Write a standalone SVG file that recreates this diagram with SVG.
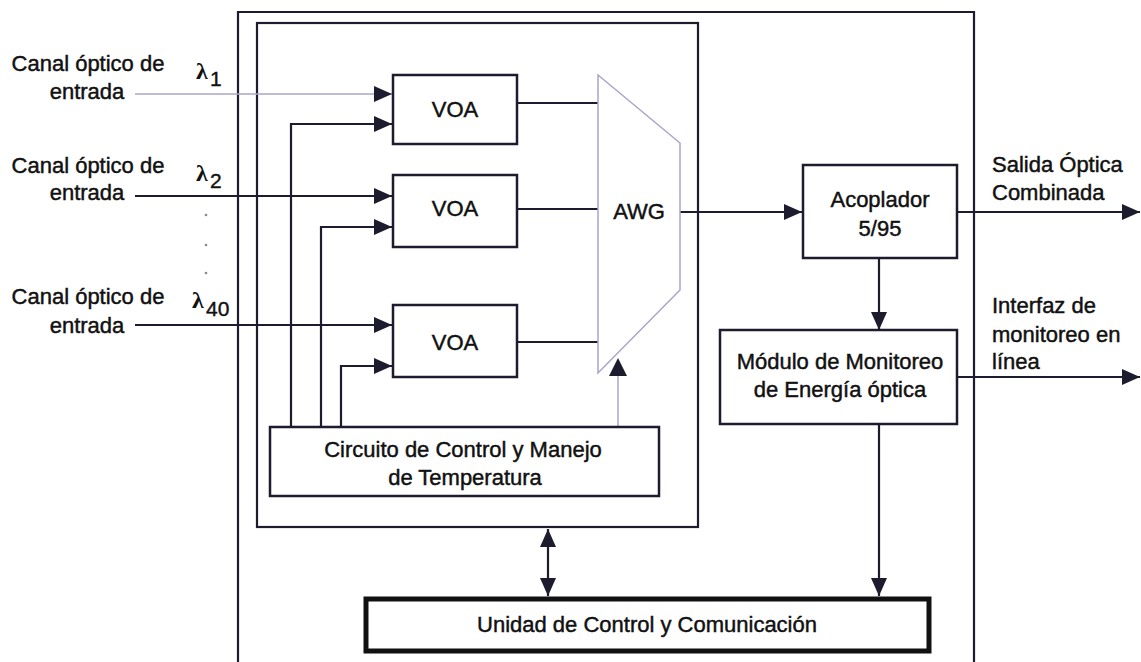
<svg xmlns="http://www.w3.org/2000/svg" width="1141" height="662" viewBox="0 0 1141 662">
<style>
.ln{stroke:#1d1b2e;stroke-width:2.2;fill:none}
.lv{stroke:#aaa4cc;stroke-width:1.5;fill:none}
.bx{stroke:#1d1b2e;stroke-width:2.5;fill:#fff}
.t{font-family:"Liberation Sans",Arial,sans-serif;font-size:22px;fill:#111;stroke:#111;stroke-width:0.45}
.c{text-anchor:middle}
.lam{font-family:"Liberation Serif","DejaVu Serif",serif;font-size:24px;font-weight:bold;fill:#111}
.sub{font-family:"Liberation Sans",Arial,sans-serif;font-size:21px;fill:#111;stroke:#111;stroke-width:0.4}
</style>
<defs>
<marker id="ah" markerUnits="userSpaceOnUse" markerWidth="19" markerHeight="17" refX="18" refY="8" orient="auto-start-reverse">
<path d="M0,0 L18,8 L0,16 z" fill="#1d1b2e"/>
</marker>
</defs>
<rect width="1141" height="662" fill="#fff"/>

<g id="frames">
<path class="ln" d="M238,662 V12 H974 V662"/>
<rect x="257" y="23" width="441" height="504" class="ln"/>
</g>

<g id="connectors">
<line class="lv" x1="135" y1="94" x2="392" y2="94" marker-end="url(#ah)"/>
<line class="ln" x1="135" y1="196" x2="392" y2="196" marker-end="url(#ah)"/>
<line class="ln" x1="135" y1="325" x2="392" y2="325" marker-end="url(#ah)"/>
<polyline class="ln" points="291,427 291,124 392,124" marker-end="url(#ah)"/>
<polyline class="ln" points="321,427 321,227 392,227" marker-end="url(#ah)"/>
<polyline class="ln" points="341,427 341,366 392,366" marker-end="url(#ah)"/>
<line class="ln" x1="517" y1="103" x2="598" y2="103"/>
<line class="ln" x1="517" y1="209" x2="598" y2="209"/>
<line class="ln" x1="517" y1="342" x2="598" y2="342"/>
<line class="lv" x1="618" y1="427" x2="618" y2="374"/>
<path d="M609,376 L618,358 L627,376 z" fill="#1d1b2e"/>
<line class="ln" x1="680" y1="212" x2="802" y2="212" marker-end="url(#ah)"/>
<line class="ln" x1="957" y1="212" x2="1140" y2="212" marker-end="url(#ah)"/>
<line class="ln" x1="879" y1="258" x2="879" y2="330" marker-end="url(#ah)"/>
<line class="ln" x1="957" y1="377" x2="1140" y2="377" marker-end="url(#ah)"/>
<line class="ln" x1="879" y1="424" x2="879" y2="596" marker-end="url(#ah)"/>
<line class="ln" x1="548" y1="529" x2="548" y2="596" marker-start="url(#ah)" marker-end="url(#ah)"/>
</g>

<g id="inputs">
<text class="t c" x="88" y="71">Canal óptico de</text>
<text class="t c" x="87" y="99">entrada</text>
<text class="t c" x="88" y="173">Canal óptico de</text>
<text class="t c" x="87" y="200">entrada</text>
<text class="t c" x="88" y="304">Canal óptico de</text>
<text class="t c" x="87" y="333">entrada</text>
<text class="lam" x="196" y="79">λ</text><text class="sub" x="210" y="86">1</text>
<text class="lam" x="196" y="181">λ</text><text class="sub" x="210" y="188">2</text>
<text class="lam" x="192" y="308">λ</text><text class="sub" x="206" y="316">40</text>
<circle cx="206" cy="215" r="1.3" fill="#888"/>
<circle cx="206" cy="245" r="1.3" fill="#888"/>
<circle cx="206" cy="273" r="1.3" fill="#888"/>
</g>

<g id="voa1"><rect class="bx" x="393" y="75" width="124" height="69"/><text class="t c" x="455" y="117">VOA</text></g>
<g id="voa2"><rect class="bx" x="393" y="175" width="124" height="72"/><text class="t c" x="455" y="216">VOA</text></g>
<g id="voa3"><rect class="bx" x="393" y="305" width="124" height="72"/><text class="t c" x="455" y="350">VOA</text></g>

<g id="awg">
<polygon class="lv" points="598,75 680,143 680,290 598,373"/>
<text class="t c" x="639" y="219">AWG</text>
</g>

<g id="circuito">
<rect class="bx" x="270" y="427" width="389" height="69"/>
<text class="t c" x="463" y="457">Circuito de Control y Manejo</text>
<text class="t c" x="465" y="485">de Temperatura</text>
</g>

<g id="acoplador">
<rect class="bx" x="803" y="165" width="154" height="93"/>
<text class="t c" x="880" y="207">Acoplador</text>
<text class="t c" x="880" y="236">5/95</text>
</g>

<g id="modulo">
<rect class="bx" x="720" y="330" width="237" height="94"/>
<text class="t c" x="840" y="369">Módulo de Monitoreo</text>
<text class="t c" x="840" y="397">de Energía óptica</text>
</g>

<g id="unidad">
<rect x="366" y="599" width="563" height="52" fill="#fff" stroke="#111" stroke-width="5"/>
<text class="t c" x="647" y="632">Unidad de Control y Comunicación</text>
</g>

<g id="outputs">
<text class="t" x="992" y="172">Salida Óptica</text>
<text class="t" x="992" y="200">Combinada</text>
<text class="t" x="992" y="313">Interfaz de</text>
<text class="t" x="992" y="342">monitoreo en</text>
<text class="t" x="992" y="369">línea</text>
</g>
</svg>
